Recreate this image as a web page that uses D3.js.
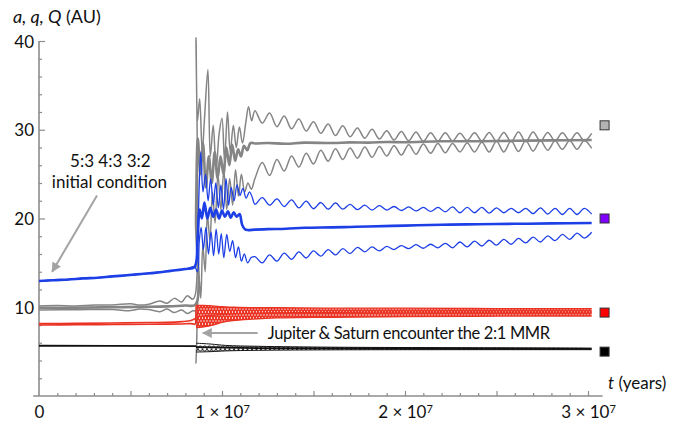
<!DOCTYPE html>
<html>
<head>
<meta charset="utf-8">
<script src="https://cdn.jsdelivr.net/npm/d3@7"></script>
<style>
  html, body { margin: 0; padding: 0; background: #fff; }
  svg text { font-family: Lato, "Open Sans", "DejaVu Sans", sans-serif; fill: #111; }
</style>
</head>
<body>
<svg id="chart" width="688" height="424"></svg>
<script>
// Time in units of 10^6 years, distances in AU.

// ---- axis ticks ----
const xLabelTicks = [0, 10, 20, 30];
const xLabelBase = ["0", "1 × 10", "2 × 10", "3 × 10"];
const xLabelExp = ["", "7", "7", "7"];
const xMidTicks = [5, 10, 15, 20, 25, 30];
const xMinorTicks = [1,2,3,4,6,7,8,9,11,12,13,14,16,17,18,19,21,22,23,24,26,27,28,29];
const yLabelTicks = [10, 20, 30, 40];
const yMinorTicks = [2,4,6,8,12,14,16,18,22,24,26,28,32,34,36,38];

// ---- before the instability (all three orbital elements nearly coincide) ----
const blueEarly = [[0,12.95],[0.8,13.05],[1.6,13.12],[2.4,13.25],[3.2,13.33],[4.0,13.48],[4.8,13.6],[5.6,13.75],[6.4,13.9],[7.2,14.1],[8.0,14.3],[8.5,14.55]];
const grayQEarly = [[0,10.15],[1,10.2],[2,10.15],[3,10.25],[4,10.25],[5,10.4],[5.5,10.25],[6,10.35],[6.6,10.7],[7,10.45],[7.4,11.0],[7.8,10.6],[8.1,11.3],[8.4,10.9],[8.55,11.5]];
const grayAEarly = [[0,9.95],[2,9.95],[4,10.0],[6,10.05],[7,10.1],[8,10.2],[8.55,10.3]];
const grayqEarly = [[0,9.7],[2,9.72],[4,9.75],[5,9.62],[5.5,9.8],[6,9.74],[6.6,9.5],[7,9.8],[7.4,9.4],[7.8,9.7],[8.1,9.3],[8.4,9.6],[8.55,9.55]];
const redQEarly = [[0,8.15],[2,8.18],[4,8.22],[6,8.28],[7,8.3],[7.8,8.38],[8.3,8.5],[8.55,8.75]];
const redqEarly = [[0,8.0],[2,8.02],[4,8.05],[6,8.08],[7,8.1],[7.8,8.12],[8.3,8.15],[8.55,8.05]];
const blackEarly = [[0,5.66],[4,5.65],[8.58,5.62]];

// ---- instability phase ----
const grayQChaos = [[8.58,40.4],[8.66,31.0],[8.78,33.5],[8.92,27.5],[9.05,31.5],[9.23,36.8],[9.36,27.0],[9.52,30.5],[9.68,25.5],[9.84,29.5],[10.0,31.3],[10.14,26.5],[10.3,32.0],[10.45,27.5],[10.62,30.5],[10.78,28.0],[10.95,30.3],[11.12,28.5],[11.3,30.8],[11.45,32.6],[11.62,31.0]];
const grayAChaos = [[8.58,20.0],[8.68,29.0],[8.82,25.0],[8.96,28.5],[9.12,23.5],[9.28,27.0],[9.44,24.0],[9.6,27.5],[9.76,24.5],[9.92,27.0],[10.08,25.0],[10.24,28.0],[10.4,26.0],[10.56,28.3],[10.72,26.5],[10.88,27.8],[11.04,27.0],[11.2,28.2],[11.38,27.7],[11.55,28.5]];
const grayqChaos = [[8.58,3.7],[8.64,8.0],[8.74,13.5],[8.84,11.0],[8.95,17.0],[9.08,14.0],[9.2,20.5],[9.34,17.5],[9.48,23.0],[9.62,19.5],[9.78,25.0],[9.94,21.0],[10.1,25.5],[10.26,21.0],[10.42,24.5],[10.58,21.5],[10.74,25.5],[10.9,22.5],[11.06,25.0],[11.24,23.0],[11.42,24.0],[11.6,23.3]];
const blueQChaos = [[8.66,18.0],[8.76,24.0],[8.84,27.5],[8.96,23.0],[9.1,25.0],[9.24,22.0],[9.38,24.5],[9.52,21.5],[9.66,24.0],[9.8,21.2],[9.94,23.8],[10.08,21.0],[10.22,24.5],[10.36,21.5],[10.5,23.5],[10.66,22.0],[10.82,23.8],[10.98,22.6],[11.14,23.4],[11.32,22.3],[11.5,23.0],[11.65,22.4]];
const blueAChaos = [[8.66,17.5],[8.78,21.0],[8.9,20.0],[9.04,21.8],[9.2,20.0],[9.36,21.2],[9.52,20.2],[9.68,21.0],[9.84,20.0],[10.0,20.9],[10.16,20.2],[10.32,20.8],[10.48,20.1],[10.64,20.7],[10.8,20.2],[10.96,20.5],[11.1,19.3],[11.25,18.8],[11.4,18.7]];
const blueqChaos = [[8.66,14.0],[8.76,17.5],[8.86,19.0],[8.98,16.5],[9.12,19.0],[9.26,16.0],[9.4,18.5],[9.54,15.8],[9.68,18.8],[9.82,16.0],[9.96,18.3],[10.1,15.6],[10.26,18.2],[10.42,16.3],[10.58,17.5],[10.74,15.6],[10.9,16.8],[11.06,15.2],[11.22,16.0],[11.4,15.0],[11.6,15.6]];

// ---- secular phase: sampled every half oscillation ----
const waveT = [11.8,12.2,12.6,13.0,13.4,13.8,14.2,14.6,15.0,15.4,15.8,16.2,16.6,17.0,17.4,17.8,18.2,18.6,19.0,19.4,19.8,20.2,20.6,21.0,21.4,21.8,22.2,22.6,23.0,23.4,23.8,24.2,24.6,25.0,25.4,25.8,26.2,26.6,27.0,27.4,27.8,28.2,28.6,29.0,29.4,29.8,30.2];
const grayQWave = [32.15,30.75,31.9,30.35,31.55,30.1,31.2,29.85,30.9,29.6,30.65,29.35,30.45,29.2,30.2,29.05,30.05,28.95,29.9,28.85,29.8,28.75,29.75,28.7,29.65,28.75,29.65,28.75,29.6,28.8,29.65,28.75,29.7,28.7,29.7,28.65,29.75,28.65,29.75,28.7,29.7,28.75,29.65,28.8,29.65,28.75,29.6];
const grayqWave = [24.5,26.3,24.85,26.65,25.35,27.05,25.8,27.35,26.15,27.7,26.45,27.85,26.65,27.95,26.8,28.05,26.9,28.1,27.05,28.2,27.15,28.3,27.25,28.4,27.35,28.45,27.4,28.45,27.5,28.5,27.5,28.6,27.5,28.7,27.5,28.75,27.55,28.8,27.6,28.75,27.7,28.75,27.8,28.8,27.8,28.8,27.9];
const blueQWave = [21.6,22.35,21.5,22.2,21.35,22.1,21.2,21.95,21.1,21.8,21.05,21.75,21.05,21.6,21.0,21.5,20.95,21.45,20.95,21.35,20.9,21.3,20.85,21.25,20.8,21.25,20.75,21.3,20.65,21.25,20.65,21.25,20.6,21.2,20.65,21.15,20.65,21.15,20.55,21.2,20.5,21.15,20.45,21.15,20.45,21.15,20.5];
const blueqWave = [15.7,15.0,15.9,15.2,16.1,15.4,16.25,15.55,16.35,15.75,16.5,15.9,16.6,16.05,16.75,16.25,16.8,16.35,16.85,16.5,16.95,16.6,17.05,16.65,17.1,16.7,17.2,16.7,17.35,16.8,17.45,16.9,17.55,17.0,17.65,17.1,17.75,17.25,17.9,17.35,18.05,17.5,18.2,17.65,18.35,17.8,18.45];
const grayALate = [[11.8,28.45],[12.5,28.5],[13.5,28.42],[14.5,28.55],[16,28.5],[17,28.58],[18,28.55],[19,28.62],[20,28.6],[22,28.7],[24,28.7],[26,28.76],[28,28.8],[30.2,28.85]];
const blueALate = [[11.8,18.75],[12.5,18.8],[13.5,18.85],[14.5,18.95],[16,19.0],[17,19.05],[18,19.1],[20,19.2],[22,19.3],[24,19.35],[26,19.4],[28,19.45],[30.2,19.5]];
// [t, Q envelope, q envelope] of the fast oscillations
const redBand = [[8.58,10.2,7.7],[9.0,10.2,7.8],[9.5,10.15,8.0],[10.0,10.05,8.3],[10.6,10.0,8.5],[11.5,9.95,8.65],[13,9.95,8.8],[16,9.9,8.88],[20,9.9,8.95],[25,9.85,9.0],[30.2,9.85,9.02]];
const redALate = [[8.58,8.9],[10,9.2],[12,9.35],[20,9.45],[30.2,9.45]];
const blackBand = [[8.58,5.95,4.95],[9.4,5.85,5.0],[10.2,5.7,5.08],[12,5.6,5.15],[16,5.5,5.2],[22,5.45,5.22],[30.2,5.4,5.22]];
const blackALate = [[8.58,5.5],[12,5.4],[20,5.35],[30.2,5.3]];

// final semimajor axes marked beside the curves
const finalMarks = [30.5, 20.0, 9.4, 5.0];
const finalColors = ["#b3b3b3", "#7f00ff", "#ff0000", "#000000"];

const GRAY = "#858585", BLUE = "#1d3fe6", RED = "#ea3323", BLACK = "#111";

const svg = d3.select("#chart");
const x = d3.scaleLinear().domain([0, 30]).range([39, 588]);
const y = d3.scaleLinear().domain([0, 40]).range([396, 41]);

const zip = (ts, vs) => ts.map((t, i) => [t, vs[i]]);
const line = d3.line().x(d => x(d[0])).y(d => y(d[1])).curve(d3.curveCatmullRom.alpha(0.5));
const lineLin = d3.line().x(d => x(d[0])).y(d => y(d[1]));

// ---- patterns and markers ----
const defs = svg.append("defs");
const hatch = defs.append("pattern").attr("id", "redHatch")
  .attr("patternUnits", "userSpaceOnUse").attr("width", 3).attr("height", 6);
hatch.append("path").attr("d", "M0,0 L3,6 M0,6 L3,0")
  .attr("stroke", RED).attr("stroke-width", 1.5).attr("fill", "none");
const ringH = 40;
const rings = defs.append("pattern").attr("id", "rings")
  .attr("patternUnits", "userSpaceOnUse").attr("width", 4.5).attr("height", ringH);
rings.append("ellipse").attr("cx", 2.25).attr("cy", y(5.35) % ringH).attr("rx", 2).attr("ry", 2.6)
  .attr("stroke", BLACK).attr("stroke-width", 0.9).attr("fill", "none");
defs.append("marker").attr("id", "arrowHead")
  .attr("viewBox", "0 0 10 10").attr("refX", 9).attr("refY", 5)
  .attr("markerWidth", 5).attr("markerHeight", 5).attr("orient", "auto")
  .append("path").attr("d", "M0,0 L10,5 L0,10 Z").attr("fill", "#a3a3a3");

// ---- axes ----
const axisColor = "#8c8c8c";
const gy = svg.append("g").attr("transform", `translate(${x(0)},0)`);
gy.call(d3.axisLeft(y).tickValues(yMinorTicks).tickSize(-3).tickSizeOuter(0).tickFormat(""));
gy.call(g => g.select(".domain").remove());
const gy2 = svg.append("g").attr("transform", `translate(${x(0)},0)`);
gy2.call(d3.axisLeft(y).tickValues(yLabelTicks).tickSize(-6).tickSizeOuter(0).tickPadding(5).tickFormat(d3.format("d")));
gy2.call(g => g.select(".domain").remove());
gy2.selectAll("text").attr("font-size", 17).attr("dy", "0.36em");

const gx = svg.append("g").attr("transform", `translate(0,${y(0)})`);
gx.call(d3.axisBottom(x).tickValues(xMinorTicks).tickSize(-3).tickSizeOuter(0).tickFormat(""));
gx.call(g => g.select(".domain").remove());
const gx2 = svg.append("g").attr("transform", `translate(0,${y(0)})`);
gx2.call(d3.axisBottom(x).tickValues(xMidTicks).tickSize(-5).tickSizeOuter(0).tickFormat(""));
gx2.call(g => g.select(".domain").remove());
const gx3 = svg.append("g").attr("transform", `translate(0,${y(0)})`);
gx3.call(d3.axisBottom(x).tickValues(xLabelTicks).tickSize(0).tickSizeOuter(0).tickPadding(10));
gx3.call(g => g.select(".domain").remove());
gx3.selectAll("text").attr("font-size", 17).each(function(d, i) {
  const t = d3.select(this);
  t.text(null);
  t.append("tspan").text(xLabelBase[i]);
  if (xLabelExp[i]) t.append("tspan").attr("dy", "-0.45em").attr("font-size", 11).text(xLabelExp[i]);
});
svg.selectAll(".tick line").attr("stroke", axisColor).attr("stroke-width", 1.2);
svg.selectAll(".tick text").attr("fill", "#111");

svg.append("line").attr("x1", x(0)).attr("x2", x(0)).attr("y1", y(40)).attr("y2", y(0))
  .attr("stroke", axisColor).attr("stroke-width", 1.6);
svg.append("line").attr("x1", x(-0.32)).attr("x2", x(30.8)).attr("y1", y(0)).attr("y2", y(0))
  .attr("stroke", axisColor).attr("stroke-width", 1.6);

// ---- curves ----
const plot = svg.append("g").attr("fill", "none").attr("stroke-linejoin", "round");

function draw(data, color, width, gen) {
  plot.append("path").datum(data).attr("d", (gen || line)(data))
    .attr("stroke", color).attr("stroke-width", width).attr("fill", "none");
}

// outer planet (gray)
draw(grayQEarly.concat(grayQChaos, zip(waveT, grayQWave)), GRAY, 1.5);
draw(grayqEarly.concat(grayqChaos, zip(waveT, grayqWave)), GRAY, 1.5);
draw(grayAEarly.concat(grayAChaos, grayALate), GRAY, 2.6);

// third planet (blue)
draw(blueEarly.concat(blueQChaos, zip(waveT, blueQWave)), BLUE, 1.3);
draw(blueEarly.concat(blueqChaos, zip(waveT, blueqWave)), BLUE, 1.3);
draw(blueEarly.concat(blueAChaos, blueALate), BLUE, 2.6);

// Saturn (red)
draw(redQEarly, RED, 1.6);
draw(redqEarly, RED, 1.6);
const bandArea = d3.area().x(d => x(d[0])).y0(d => y(d[2])).y1(d => y(d[1])).curve(d3.curveMonotoneX);
plot.append("path").datum(redBand).attr("d", bandArea).attr("fill", "url(#redHatch)").attr("stroke", "none");
draw(redBand.map(d => [d[0], d[1]]), RED, 1.4);
draw(redBand.map(d => [d[0], d[2]]), RED, 1.4);
draw(redALate, RED, 1.2);
plot.append("line").attr("x1", x(redQEarly[redQEarly.length - 1][0])).attr("x2", x(redBand[0][0]))
  .attr("y1", y(redqEarly[redqEarly.length - 1][1])).attr("y2", y(redBand[0][1]))
  .attr("stroke", RED).attr("stroke-width", 1.3);

// Jupiter (black)
draw(blackEarly, BLACK, 1.8, lineLin);
plot.append("path").datum(blackBand).attr("d", bandArea).attr("fill", "url(#rings)").attr("stroke", "none");
draw(blackBand.map(d => [d[0], d[1]]), BLACK, 1.0);
draw(blackBand.map(d => [d[0], d[2]]), BLACK, 1.0);
draw(blackALate, BLACK, 1.8, lineLin);

// ---- final-position markers ----
svg.selectAll("rect.mark").data(finalMarks).join("rect").attr("class", "mark")
  .attr("x", x(30.66)).attr("y", d => y(d) - 4.5).attr("width", 9).attr("height", 9)
  .attr("fill", (d, i) => finalColors[i]).attr("stroke", "#333").attr("stroke-width", 1);

// ---- labels and annotations ----
const title = svg.append("text").attr("x", 13).attr("y", 23).attr("font-size", 18);
title.append("tspan").attr("font-style", "italic").text("a, q, Q");
title.append("tspan").text(" (AU)");

const tl = svg.append("text").attr("x", 608).attr("y", 389).attr("font-size", 17);
tl.append("tspan").attr("font-style", "italic").text("t");
tl.append("tspan").text(" (years)");

svg.append("text").attr("x", x(3.9)).attr("y", y(25.8)).attr("text-anchor", "middle")
  .attr("font-size", 17).text("5:3 4:3 3:2");
svg.append("text").attr("x", x(3.85)).attr("y", y(23.45)).attr("text-anchor", "middle")
  .attr("font-size", 17).text("initial condition");
svg.append("line").attr("x1", x(3.17)).attr("y1", y(22.6)).attr("x2", x(0.72)).attr("y2", y(14.0))
  .attr("stroke", "#a3a3a3").attr("stroke-width", 2).attr("marker-end", "url(#arrowHead)");

svg.append("line").attr("x1", x(11.95)).attr("y1", y(7.1)).attr("x2", x(8.95)).attr("y2", y(7.1))
  .attr("stroke", "#a3a3a3").attr("stroke-width", 2).attr("marker-end", "url(#arrowHead)");
svg.append("text").attr("x", x(12.5)).attr("y", y(6.4)).attr("font-size", 16.5)
  .attr("letter-spacing", "-0.35px")
  .text("Jupiter & Saturn encounter the 2:1 MMR");
</script>
</body>
</html>
